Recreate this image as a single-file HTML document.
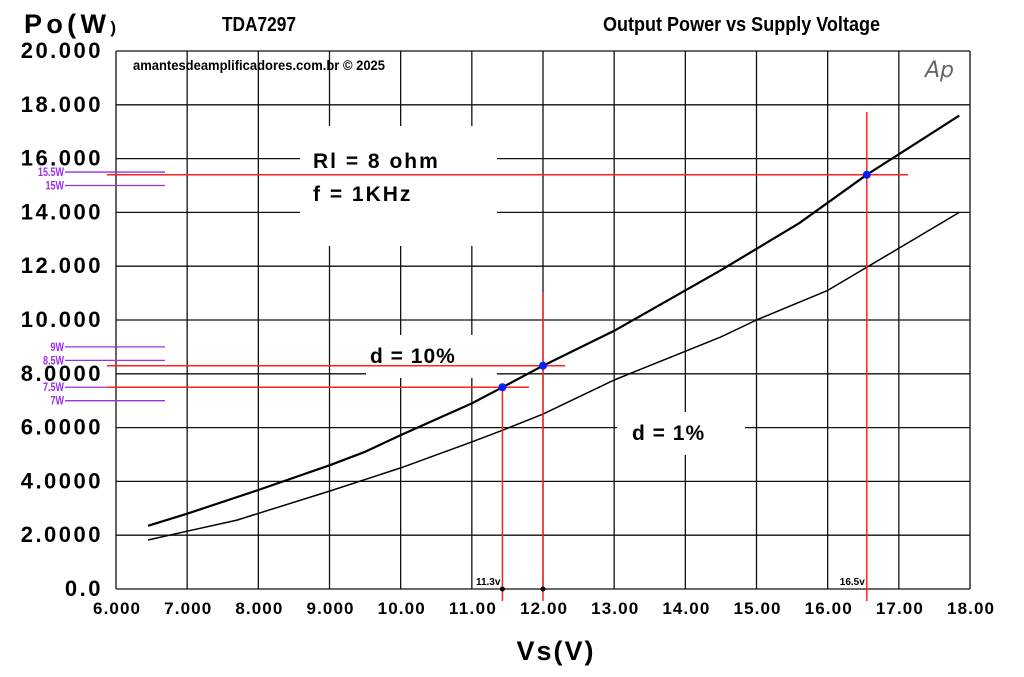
<!DOCTYPE html>
<html><head><meta charset="utf-8"><style>
body{margin:0;background:#fff;}
svg{display:block;}
.b{font-family:"Liberation Sans",sans-serif;font-weight:bold;}
.n{font-family:"Liberation Sans Narrow","Liberation Sans",sans-serif;font-weight:bold;}
</style></head><body>
<svg id="chart" width="1024" height="677" viewBox="0 0 1024 677" xmlns="http://www.w3.org/2000/svg">
<g id="grid"></g>
<g id="boxes">
<rect x="300" y="126" width="197" height="120" fill="#fff"/>
<rect x="366" y="335" width="131" height="43" fill="#fff"/>
<rect x="617" y="412" width="128" height="43" fill="#fff"/>
</g>
<g id="curves"></g>
<g id="marks"></g>
<text class="b" x="24" y="33" font-size="27" textLength="92">Po(W<tspan font-size="17">)</tspan></text>
<text class="n" x="222" y="31" font-size="20" textLength="74" lengthAdjust="spacingAndGlyphs">TDA7297</text>
<text class="n" x="603" y="31" font-size="20" textLength="277" lengthAdjust="spacingAndGlyphs">Output Power vs Supply Voltage</text>
<text class="n" x="133" y="70" font-size="14" textLength="252" lengthAdjust="spacingAndGlyphs">amantesdeamplificadores.com.br © 2025</text>
<text x="925" y="77" font-size="22" font-style="italic" fill="#666" font-family="DejaVu Sans, sans-serif" font-weight="200">Ap</text>
<text class="b" x="313" y="168" font-size="21" letter-spacing="2">Rl = 8 ohm</text>
<text class="b" x="313" y="201" font-size="21" letter-spacing="2">f = 1KHz</text>
<text class="b" x="370" y="363" font-size="21" letter-spacing="1">d = 10%</text>
<text class="b" x="632" y="440" font-size="21" letter-spacing="1">d = 1%</text>
<text class="b" x="556" y="660" font-size="27" text-anchor="middle" letter-spacing="2">Vs(V)</text>
<g id="ticks"></g>
</svg>
<script>
const xTicks=[6,7,8,9,10,11,12,13,14,15,16,17,18];
const xTickLabels=["6.000","7.000","8.000","9.000","10.00","11.00","12.00","13.00","14.00","15.00","16.00","17.00","18.00"];
const yTicks=[0,2,4,6,8,10,12,14,16,18,20];
const yTickLabels=["0.0","2.0000","4.0000","6.0000","8.0000","10.000","12.000","14.000","16.000","18.000","20.000"];
const d10V=[6.45,7.0,8.0,9.0,9.5,10.0,11.0,11.43,12.0,13.0,14.5,15.6,16.55,17.85];
const d10P=[2.35,2.8,3.68,4.6,5.1,5.72,6.9,7.5,8.3,9.6,11.85,13.6,15.4,17.6];
const d1V=[6.45,7.0,7.7,9.0,10.0,11.0,11.43,12.0,13.0,14.5,15.0,16.0,17.85];
const d1P=[1.82,2.15,2.56,3.64,4.5,5.47,5.9,6.5,7.77,9.37,10.0,11.1,14.0];
const opV=[11.43,12.0,16.55];
const opP=[7.5,8.3,15.4];
const refW=[15.5,15,9,8.5,7.5,7];
const refLabels=["15.5W","15W","9W","8.5W","7.5W","7W"];
const NS="http://www.w3.org/2000/svg";
const X=v=>116+(v-6)*(854/12);
const Y=p=>589-p*26.9;
function mk(tag,attrs,parent){const e=document.createElementNS(NS,tag);for(const k in attrs)e.setAttribute(k,attrs[k]);parent.appendChild(e);return e;}
const grid=document.getElementById('grid'),ticks=document.getElementById('ticks'),curves=document.getElementById('curves'),marks=document.getElementById('marks');
xTicks.forEach((v,i)=>{
 const l=mk('line',{x1:X(v),x2:X(v),y1:Y(20),y2:Y(0),stroke:'#111','stroke-width':1.3},grid);
 
 
 const t=mk('text',{x:X(v)-23,y:614,'font-size':17,textLength:47,class:'b'},ticks);
 t.textContent=xTickLabels[i];
 
 
});
yTicks.forEach((p,i)=>{
 const t=mk('text',{x:103,y:Y(p)+7,'font-size':22,'text-anchor':'end',class:'b','letter-spacing':2.5},ticks);
 t.textContent=yTickLabels[i];
 
 
 const l=mk('line',{x1:X(6),x2:X(18),y1:Y(p),y2:Y(p),stroke:'#111','stroke-width':1.3},grid);
 
 
});
function path(V,P,w,name){
 const d=V.map((v,i)=>(i?'L':'M')+X(v).toFixed(1)+','+Y(P[i]).toFixed(1)).join(' ');
 const e=mk('path',{d:d,fill:'none',stroke:'#000','stroke-width':w,'stroke-linejoin':'round'},curves);
 
 
}
path(d10V,d10P,2.2,'curve-d10');
path(d1V,d1P,1.5,'curve-d1');
refW.forEach((w,i)=>{
 const l=mk('line',{x1:65,x2:165,y1:Y(w),y2:Y(w),stroke:'#9b30e0','stroke-width':1.3},marks);
 
 
 const t=mk('text',{x:64,y:Y(w)+4,'font-size':12,'text-anchor':'end',fill:'#9b30e0',class:'n',transform:'translate(64 0) scale(0.75 1) translate(-64 0)'},marks);
 t.textContent=refLabels[i];
 
 
});
const hEnd=[529,565,908],vTop=[387,292,112];
opV.forEach((v,i)=>{
 const h=mk('line',{x1:107,x2:hEnd[i],y1:Y(opP[i]),y2:Y(opP[i]),stroke:'#f22','stroke-width':1.5},marks);
 
 
 const vl=mk('line',{x1:X(v),x2:X(v),y1:vTop[i],y2:601,stroke:'#f22','stroke-width':1.5},marks);
 
 
 const c=mk('circle',{cx:X(v),cy:Y(opP[i]),r:4,fill:'#0020ff'},marks);
 
 
});
[0,1].forEach(i=>{
 const c=mk('circle',{cx:X(opV[i]),cy:589,r:2.5,fill:'#000'},marks);
 
 
});
const t1=mk('text',{x:X(opV[0])-2,y:585,'font-size':10,'text-anchor':'end',class:'n'},marks);
t1.textContent='11.3v';


const t2=mk('text',{x:X(opV[2])-2,y:585,'font-size':10,'text-anchor':'end',class:'n'},marks);
t2.textContent='16.5v';


</script>
</body></html>
